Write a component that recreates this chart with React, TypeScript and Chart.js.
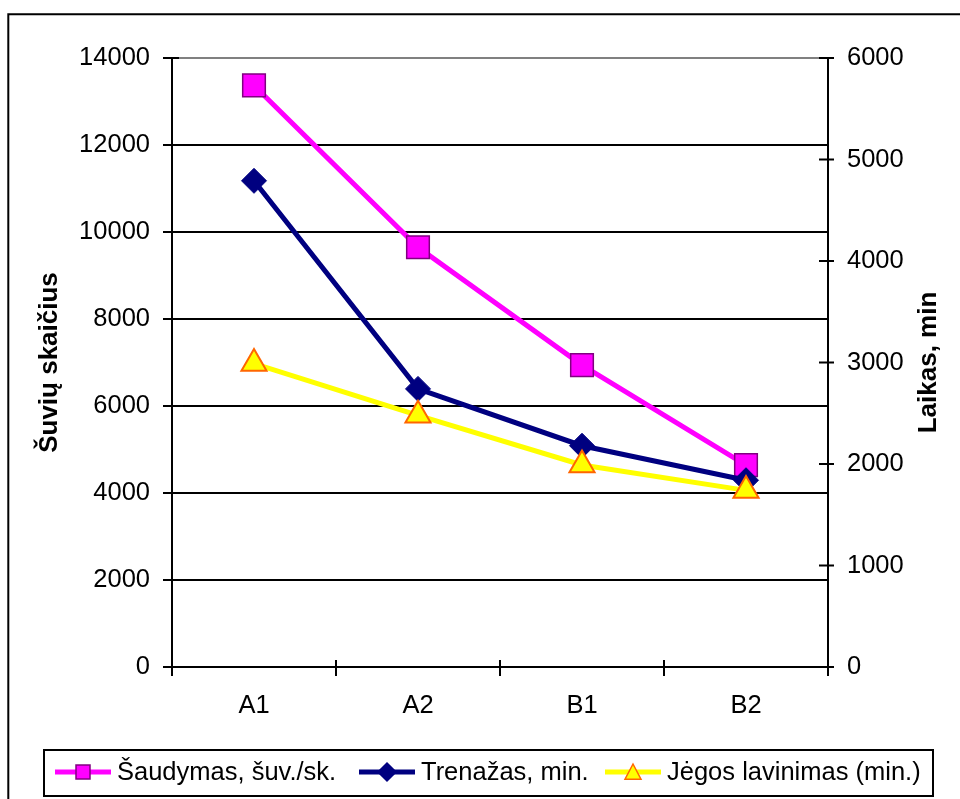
import React, { useEffect, useRef } from "react";
import { Chart, registerables } from "chart.js";

Chart.register(...registerables);

const categories = ["A1", "A2", "B1", "B2"];
const saudymas = [13370, 9650, 6940, 4640];
const trenazas = [4790, 2740, 2180, 1840];
const jegos = [2990, 2480, 1990, 1740];
const leftTicks = [0, 2000, 4000, 6000, 8000, 10000, 12000, 14000];
const rightTicks = [0, 1000, 2000, 3000, 4000, 5000, 6000];
const seriesLabels = ["Šaudymas, šuv./sk.", "Trenažas, min.", "Jėgos lavinimas (min.)"];
const leftTitle = "Šuvių skaičius";
const rightTitle = "Laikas, min";

const FONT = "'Liberation Sans', Arial, sans-serif";

function drawMarker(ctx: CanvasRenderingContext2D, style: string, x: number, y: number, r: number, fill: string, stroke: string, bw: number) {
  ctx.save();
  ctx.fillStyle = fill;
  ctx.strokeStyle = stroke;
  ctx.lineWidth = bw;
  ctx.beginPath();
  if (style === "rect") {
    ctx.rect(x - r, y - r, 2 * r, 2 * r);
  } else if (style === "rectRot") {
    ctx.moveTo(x, y - r);
    ctx.lineTo(x + r, y);
    ctx.lineTo(x, y + r);
    ctx.lineTo(x - r, y);
    ctx.closePath();
  } else {
    ctx.moveTo(x, y - r);
    ctx.lineTo(x + r, y + r * 0.9);
    ctx.lineTo(x - r, y + r * 0.9);
    ctx.closePath();
  }
  ctx.fill();
  ctx.stroke();
  ctx.restore();
}

const decorPlugin = {
  id: "decor",
  afterDraw(chart: any) {
    const ctx: CanvasRenderingContext2D = chart.ctx;
    const { left, right, top, bottom } = chart.chartArea;
    const ys = chart.scales.y;
    const y1s = chart.scales.y1;
    const xs = chart.scales.x;
    ctx.save();
    ctx.strokeStyle = "#000";
    ctx.lineWidth = 2;
    // outer frame
    ctx.beginPath();
    ctx.moveTo(8.3, 802);
    ctx.lineTo(8.3, 14.3);
    ctx.lineTo(964, 14.3);
    ctx.stroke();
    // crossing tick marks
    ctx.beginPath();
    ys.ticks.forEach((t: any) => {
      const py = ys.getPixelForValue(t.value);
      ctx.moveTo(left - 9, py);
      ctx.lineTo(left + 7, py);
    });
    y1s.ticks.forEach((t: any) => {
      const py = y1s.getPixelForValue(t.value);
      ctx.moveTo(right - 9, py);
      ctx.lineTo(right + 6, py);
    });
    const n = categories.length;
    const sp = n > 1 ? xs.getPixelForValue(1) - xs.getPixelForValue(0) : right - left;
    for (let i = 0; i <= n; i++) {
      const px = xs.getPixelForValue(0) - sp / 2 + i * sp;
      ctx.moveTo(px, bottom - 7);
      ctx.lineTo(px, bottom + 9);
    }
    ctx.stroke();

    // axis titles (both read bottom-to-top)
    ctx.fillStyle = "#000";
    ctx.font = `bold 26px ${FONT}`;
    ctx.textAlign = "center";
    ctx.textBaseline = "middle";
    const cy = (top + bottom) / 2;
    ctx.save();
    ctx.translate(50, cy);
    ctx.rotate(-Math.PI / 2);
    ctx.fillText(leftTitle, 0, 0);
    ctx.restore();
    ctx.save();
    ctx.translate(929, cy);
    ctx.rotate(-Math.PI / 2);
    ctx.fillText(rightTitle, 0, 0);
    ctx.restore();

    // legend
    const lx0 = 44, ly0 = 750, lx1 = 933, ly1 = 796;
    ctx.lineWidth = 2;
    ctx.strokeStyle = "#000";
    ctx.strokeRect(lx0, ly0, lx1 - lx0, ly1 - ly0);
    const ly = (ly0 + ly1) / 2 - 1;
    const starts = [55, 359, 605];
    const markerR = [7, 9, 8];
    ctx.font = `25.5px ${FONT}`;
    ctx.textAlign = "left";
    ctx.textBaseline = "middle";
    chart.data.datasets.forEach((ds: any, i: number) => {
      const sx = starts[i];
      ctx.save();
      ctx.strokeStyle = ds.borderColor;
      ctx.lineWidth = 5;
      ctx.beginPath();
      ctx.moveTo(sx, ly);
      ctx.lineTo(sx + 56, ly);
      ctx.stroke();
      ctx.restore();
      drawMarker(ctx, ds.pointStyle, sx + 28, ly, markerR[i], ds.pointBackgroundColor, ds.pointBorderColor, 1.5);
      ctx.fillStyle = "#000";
      ctx.fillText(ds.label, sx + 62, ly + 1);
    });
    ctx.restore();
  },
};

const plain = (v: any) => String(v);

export default function App() {
  const ref = useRef<HTMLCanvasElement>(null);
  useEffect(() => {
    if (!ref.current) return;
    const chart = new Chart(ref.current, {
      type: "line",
      data: {
        labels: categories,
        datasets: [
          {
            label: seriesLabels[0],
            data: saudymas,
            yAxisID: "y",
            borderColor: "#FF00FF",
            borderWidth: 5,
            pointStyle: "rect",
            pointRadius: 16,
            pointBackgroundColor: "#FF00FF",
            pointBorderColor: "#800080",
            pointBorderWidth: 1.5,
            order: 3,
            tension: 0,
          },
          {
            label: seriesLabels[1],
            data: trenazas,
            yAxisID: "y1",
            borderColor: "#000080",
            borderWidth: 5,
            pointStyle: "rectRot",
            pointRadius: 12.5,
            pointBackgroundColor: "#000080",
            pointBorderColor: "#000080",
            pointBorderWidth: 1,
            order: 2,
            tension: 0,
          },
          {
            label: seriesLabels[2],
            data: jegos,
            yAxisID: "y1",
            borderColor: "#FFFF00",
            borderWidth: 5,
            pointStyle: "triangle",
            pointRadius: 14.5,
            pointBackgroundColor: "#FFFF00",
            pointBorderColor: "#FF6600",
            pointBorderWidth: 2,
            order: 1,
            tension: 0,
          },
        ],
      },
      options: {
        animation: false,
        responsive: true,
        maintainAspectRatio: false,
        layout: { padding: { top: 58, left: 0, right: 0, bottom: 0 } },
        plugins: {
          legend: { display: false },
          tooltip: { enabled: false },
          title: { display: false },
        },
        scales: {
          x: {
            type: "category",
            offset: true,
            grid: { display: true, drawOnChartArea: false, drawTicks: false },
            border: { display: true, color: "#000", width: 2 },
            ticks: { color: "#000", font: { family: FONT, size: 25.5 }, padding: 24, maxRotation: 0 },
            afterFit: (s: any) => { s.height = 132; },
          },
          y: {
            type: "linear",
            position: "left",
            min: 0,
            max: 14000,
            afterBuildTicks: (s: any) => { s.ticks = leftTicks.map((v) => ({ value: v })); },
            grid: {
              drawTicks: false,
              lineWidth: 2,
              color: (c: any) => (c.tick && c.tick.value === 14000 ? "#808080" : "#000"),
            },
            border: { display: true, color: "#000", width: 2 },
            ticks: { color: "#000", font: { family: FONT, size: 25.5 }, padding: 22, callback: plain },
            afterFit: (s: any) => { s.width = 172; },
          },
          y1: {
            type: "linear",
            position: "right",
            min: 0,
            max: 6000,
            afterBuildTicks: (s: any) => { s.ticks = rightTicks.map((v) => ({ value: v })); },
            grid: { drawOnChartArea: false, drawTicks: false },
            border: { display: true, color: "#000", width: 2 },
            ticks: { color: "#000", font: { family: FONT, size: 25.5 }, padding: 19, callback: plain },
            afterFit: (s: any) => { s.width = 132; },
          },
        },
      },
      plugins: [decorPlugin],
    });
    return () => chart.destroy();
  }, []);
  return (
    <div style={{ position: "absolute", left: 0, top: 0, width: 960, height: 799, background: "#fff" }}>
      <canvas ref={ref} />
    </div>
  );
}
